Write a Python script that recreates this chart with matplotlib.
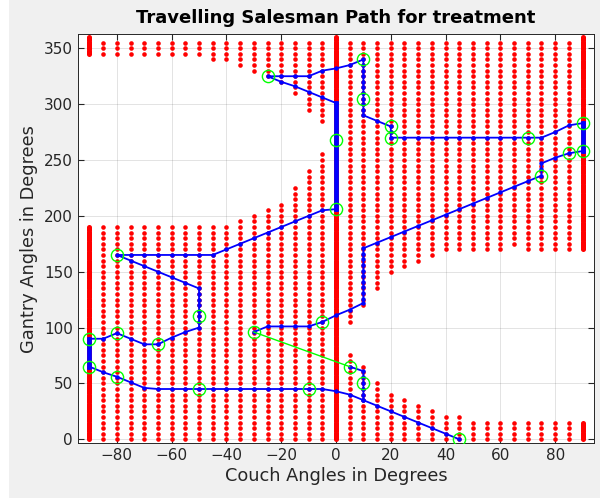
import numpy as np
import matplotlib
matplotlib.use("Agg")
import matplotlib.pyplot as plt
from matplotlib.patches import Rectangle

# allowed (collision free) couch/gantry grid, read per couch column
# left half: couch -85..-5 step 5
left_couch = [-85, -80, -75, -70, -65, -60, -55, -50, -45, -40, -35, -30, -25, -20, -15, -10, -5]
left_low_top = [190, 190, 190, 190, 190, 190, 190, 190, 190, 190, 195, 200, 205, 210, 225, 240, 255]
left_up_bottom = [345, 345, 345, 345, 345, 345, 345, 345, 340, 340, 335, 330, 325, 320, 310, 295, 285]
# right half: couch 5..85 step 5
right_couch = [5, 10, 15, 20, 25, 30, 35, 40, 45, 50, 55, 60, 65, 70, 75, 80, 85]
right_low_top = [75, 65, 50, 40, 35, 30, 25, 20, 20, 15, 15, 15, 15, 15, 15, 15, 15]
right_up_bottom = [105, 120, 135, 150, 155, 160, 165, 170, 170, 170, 170, 170, 175, 170, 170, 170, 170]
grid_top = 355
# finely sampled columns (couch, gantry from, gantry to)
dense_cols = [(-90, 0, 190), (-90, 345, 360), (0, 0, 360), (90, 0, 15), (90, 170, 360)]

# path pieces between treatment nodes
path_a_couch = [45, 40, 35, 30, 25, 20, 15, 10, 5, 0, -5, -10, -15, -20, -25, -30, -35, -40,
                -45, -50, -55, -60, -65, -70, -75, -80, -85, -90]
path_a_gantry = [0, 5, 10, 15, 20, 25, 30, 35, 40, 43, 45, 45, 45, 45, 45, 45, 45, 45,
                 45, 45, 45, 45, 45, 46, 51, 56, 60, 65]
path_c_couch = [-90, -85, -80, -75, -70, -65, -60, -55, -50, -50, -50, -50, -50, -50, -50, -50,
                -55, -60, -65, -70, -75, -80, -75, -70, -65, -60, -55, -50, -45,
                -40, -35, -30, -25, -20, -15, -10, -5, 0]
path_c_gantry = [90, 90, 95, 90, 85, 85, 91, 96, 100, 105, 110, 115, 120, 125, 130, 135,
                 140, 145, 150, 155, 160, 165, 165, 165, 165, 165, 165, 165, 165,
                 170, 175, 180, 185, 190, 195, 200, 205, 206]
path_e_couch = [0, -5, -10, -15, -20, -25, -20, -15, -10, -5, 0, 5, 10, 10, 10, 10, 10, 10,
                10, 10, 10, 10, 10, 15, 20, 20, 20, 25, 30, 35, 40, 45, 50, 55, 60, 65, 70,
                75, 80, 85, 90]
path_e_gantry = [301, 306, 311, 316, 320, 325, 325, 325, 325, 330, 332, 335, 340, 335, 330,
                 325, 320, 315, 310, 305, 300, 295, 290, 285, 280, 275, 270, 270, 270, 270,
                 270, 270, 270, 270, 270, 270, 270, 270, 275, 281, 283]
path_g_couch = [90, 85, 80, 75, 75, 75, 70, 65, 60, 55, 50, 45, 40, 35, 30, 25, 20, 15, 10,
                10, 10, 10, 10, 10, 10, 10, 10, 10, 10, 5, 0, -5, -10, -15, -20, -25, -30]
path_g_gantry = [258, 256, 252, 247, 242, 236, 231, 226, 221, 216, 211, 206, 201, 196, 191,
                 186, 181, 176, 171, 166, 161, 156, 151, 146, 141, 136, 131, 126, 122, 116,
                 111, 105, 101, 101, 101, 101, 96]
path_i_couch = [5, 10, 10, 10, 10, 10, 10]
path_i_gantry = [65, 61, 56, 50, 45, 40, 35]
# runs along the finely sampled columns (couch, gantry from, gantry to)
dense_runs = [(-90, 65, 90), (0, 206, 301), (90, 258, 283)]
# direct (green) hop
hop_couch = [-30, 5]
hop_gantry = [96, 65]

node_couch = [45, 10, 5, -30, -5, 0, 0, -25, 10, 10, 20, 20, 70, 90, 90, 85, 75,
              -80, -50, -65, -80, -90, -90, -80, -50, -10]
node_gantry = [0, 50, 65, 96, 105, 206, 268, 325, 340, 305, 280, 270, 270, 283, 258, 256, 236,
               165, 110, 85, 95, 90, 65, 56, 45, 45]

fig = plt.figure(figsize=(6, 4.98), dpi=100, facecolor="#f0f0f0")
# white strip on the left edge of the window capture
fig.patches.append(Rectangle((0, 0), 9 / 600, 1, transform=fig.transFigure,
                             facecolor="white", edgecolor="none", zorder=-1))
ax = fig.add_axes([77.7 / 600, 1 - 443.3 / 498, 516.6 / 600, 409.3 / 498])

# red grid of allowed angles
for c, lt, ub in zip(left_couch + right_couch, left_low_top + right_low_top,
                     left_up_bottom + right_up_bottom):
    g = np.concatenate([np.arange(0, lt + 1, 5), np.arange(ub, grid_top + 1, 5)])
    ax.plot(np.full(len(g), c), g, "o", color="red", ms=3.3, mew=0, zorder=2)
for c, g0, g1 in dense_cols:
    g = np.arange(g0, g1 + 1, 1)
    ax.plot(np.full(len(g), c), g, "o", color="red", ms=3.6, mew=0, zorder=2)

blue = "#0000ff"
for xs, ys in [(path_a_couch, path_a_gantry), (path_c_couch, path_c_gantry),
               (path_e_couch, path_e_gantry), (path_g_couch, path_g_gantry),
               (path_i_couch, path_i_gantry)]:
    ax.plot(xs, ys, "-o", color=blue, lw=1.3, ms=3.2, mew=0, zorder=3)
for c, g0, g1 in dense_runs:
    ax.plot([c, c], [g0, g1], "-", color=blue, lw=3.4, zorder=3)
ax.plot(hop_couch, hop_gantry, "-", color="#00ff00", lw=1.0, zorder=3)
ax.plot(node_couch, node_gantry, "o", mfc="none", mec="#00ff00", ms=8.8, mew=1.0, zorder=4)

ax.set_xlim(-94.3, 94.3)
ax.set_ylim(-3.6, 362.8)
ax.set_xticks(range(-80, 81, 20))
ax.set_yticks(range(0, 351, 50))
ax.grid(True, color="#262626", alpha=0.15, lw=0.6)
ax.set_axisbelow(True)
ax.tick_params(direction="in", top=True, right=True, length=4, labelsize=11,
               colors="#262626", labelcolor="#262626")
for s in ax.spines.values():
    s.set_color("#262626")
    s.set_linewidth(0.7)

ax.set_xlabel("Couch Angles in Degrees", fontsize=12.8, color="#262626", labelpad=3)
ax.set_ylabel("Gantry Angles in Degrees", fontsize=12.8, color="#262626", labelpad=4)
ax.set_title("Travelling Salesman Path for treatment", fontsize=13, fontweight="bold", pad=8)

fig.savefig("out.png", dpi=100, facecolor=fig.get_facecolor())
